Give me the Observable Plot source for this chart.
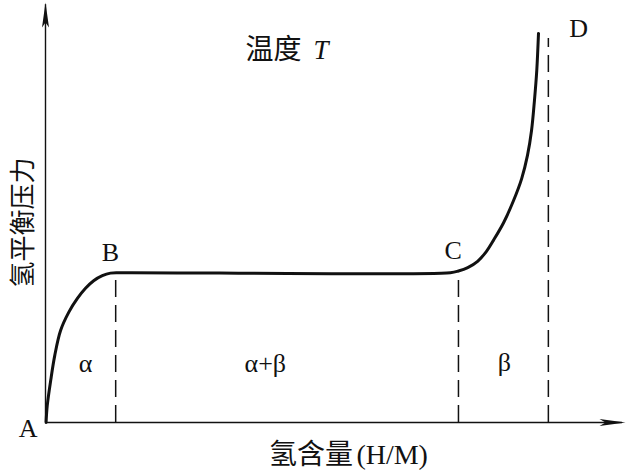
<!DOCTYPE html>
<html>
<head>
<meta charset="utf-8">
<script src="https://cdn.jsdelivr.net/npm/d3@7"></script>
<script src="https://cdn.jsdelivr.net/npm/@observablehq/plot@0.6"></script>
<style>
  html, body { margin: 0; padding: 0; background: #fff; }
  #chart svg { display: block; }
</style>
</head>
<body>
<div id="chart"></div>
<script>
// Hydrogen content (H/M, relative units) along the isotherm
const hm = [0.001, 0.003, 0.009, 0.016, 0.026, 0.040, 0.055, 0.069, 0.083, 0.098, 0.112, 0.129,
            0.698, 0.712, 0.728, 0.745, 0.760, 0.772, 0.790, 0.807, 0.821, 0.831, 0.838, 0.843, 0.847, 0.850];
// Equilibrium hydrogen pressure (relative units)
const pressure = [0, 0.040, 0.100, 0.159, 0.218, 0.261, 0.294, 0.318, 0.336, 0.348, 0.354, 0.355,
                  0.355, 0.359, 0.367, 0.382, 0.405, 0.431, 0.474, 0.526, 0.578, 0.633, 0.692, 0.763, 0.834, 0.922];

// Phase boundaries (dashed lines)
const boundaryX = [0.121, 0.712, 0.867];
const boundaryTop = [0.355, 0.359, 0.910];

// Point labels
const pointNames = ["A", "B", "C", "D"];
const pointX = [-0.030, 0.112, 0.703, 0.919];
const pointY = [-0.015, 0.403, 0.408, 0.934];

// Phase region labels
const phaseNames = ["α", "α+β", "β"];
const phaseX = [0.069, 0.379, 0.791];
const phaseY = [0.140, 0.140, 0.142];

const titleText = "温度";
const titleVar = "T";
const xLabelName = "氢含量";
const xLabelUnit = "(H/M)";
const yLabel = "氢平衡压力";

const curve = hm.map((x, i) => ({x, y: pressure[i]}));
const bounds = boundaryX.map((x, i) => ({x, top: boundaryTop[i]}));
const points = pointNames.map((n, i) => ({n, x: pointX[i], y: pointY[i]}));
const phases = phaseNames.map((n, i) => ({n, x: phaseX[i], y: phaseY[i]}));

const arrowUp = {draw(ctx) { ctx.moveTo(0, 0); ctx.lineTo(3.5, 25); ctx.lineTo(0, 20); ctx.lineTo(-3.5, 25); ctx.closePath(); }};
const arrowRight = {draw(ctx) { ctx.moveTo(0, 0); ctx.lineTo(-26, -3.5); ctx.lineTo(-20, 0); ctx.lineTo(-26, 3.5); ctx.closePath(); }};

const SERIF = "'Liberation Serif', 'Times New Roman', serif";
const CJK = "'Noto Sans CJK SC', sans-serif";

const chart = Plot.plot({
  width: 626,
  height: 473,
  marginLeft: 45,
  marginRight: 1,
  marginTop: 0,
  marginBottom: 51,
  x: {domain: [0, 1], axis: null},
  y: {domain: [0, 1], axis: null},
  style: {fontFamily: SERIF, background: "#fff"},
  marks: [
    Plot.ruleX([0], {y1: 0, y2: 0.99, stroke: "#111", strokeWidth: 1.4}),
    Plot.ruleY([0], {x1: 0, x2: 0.995, stroke: "#111", strokeWidth: 1.4}),
    Plot.dot([{x: 0, y: 0.995}], {x: "x", y: "y", symbol: arrowUp, fill: "#111", stroke: "none"}),
    Plot.dot([{x: 1, y: 0}], {x: "x", y: "y", symbol: arrowRight, fill: "#111", stroke: "none"}),
    Plot.ruleX(bounds, {x: "x", y1: 0, y2: "top", stroke: "#111", strokeWidth: 1.5, strokeDasharray: "17,8"}),
    Plot.line(curve, {x: "x", y: "y", stroke: "#111", strokeWidth: 3, curve: "catmull-rom"}),
    Plot.text(points, {x: "x", y: "y", text: "n", fontSize: 26, fill: "#111", fontFamily: SERIF}),
    Plot.text(phases, {x: "x", y: "y", text: "n", fontSize: 26, fill: "#111", fontFamily: SERIF}),
    Plot.text([titleText], {x: 0.345, y: 0.882, text: d => d, fontSize: 28, fill: "#111", textAnchor: "start", fontFamily: CJK}),
    Plot.text([titleVar], {x: 0.462, y: 0.882, text: d => d, fontSize: 27, fontStyle: "italic", fill: "#111", textAnchor: "start", fontFamily: SERIF}),
    Plot.text([xLabelName], {x: 0.530, y: -0.076, text: d => d, fontSize: 28, fill: "#111", textAnchor: "end", fontFamily: CJK}),
    Plot.text([xLabelUnit], {x: 0.536, y: -0.076, text: d => d, fontSize: 28, fill: "#111", textAnchor: "start", fontFamily: SERIF}),
    Plot.text([yLabel], {x: -0.038, y: 0.474, text: d => d, fontSize: 26, rotate: -90, fill: "#111", fontFamily: CJK})
  ]
});
document.getElementById("chart").appendChild(chart);
</script>
</body>
</html>
